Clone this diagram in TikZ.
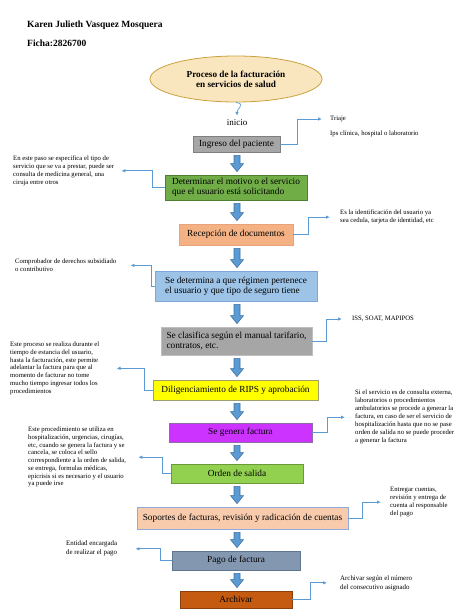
\documentclass[tikz,border=0pt]{standalone}
\usepackage{fontspec}
\setmainfont{Liberation Serif}
\usetikzlibrary{shapes.geometric,arrows.meta,calc,positioning}
\definecolor{crema}{HTML}{FAE6BE}
\definecolor{oro}{HTML}{C9A23F}
\definecolor{gris}{HTML}{A6A6A6}
\definecolor{grisb}{HTML}{7F7F7F}
\definecolor{verde}{HTML}{70AD47}
\definecolor{verdeb}{HTML}{507E32}
\definecolor{salmon}{HTML}{F4B183}
\definecolor{salmonb}{HTML}{E9A27A}
\definecolor{celeste}{HTML}{9DC3E6}
\definecolor{celesteb}{HTML}{7DA7D9}
\definecolor{grisc}{HTML}{BFBFBF}
\definecolor{amarillo}{HTML}{FFFF00}
\definecolor{amarillob}{HTML}{9E9E70}
\definecolor{morado}{HTML}{CC33FF}
\definecolor{moradob}{HTML}{8E6BA8}
\definecolor{verdec}{HTML}{92D050}
\definecolor{verdecb}{HTML}{6C9A3A}
\definecolor{durazno}{HTML}{F8CBAD}
\definecolor{duraznob}{HTML}{8FAADC}
\definecolor{pizarra}{HTML}{8497B0}
\definecolor{pizarrab}{HTML}{5F7590}
\definecolor{naranja}{HTML}{C55A11}
\definecolor{naranjab}{HTML}{8A3F0C}
\definecolor{azul}{HTML}{5B9BD5}
\definecolor{azulb}{HTML}{41719C}
\tikzset{
    titulo/.style = {anchor=west, inner sep=0pt, font=\fontsize{9.5}{11}\selectfont\bfseries},
    inicial/.style = {ellipse, draw=oro, fill=crema, line width=0.8pt, minimum width=172pt, minimum height=46pt, align=center, font=\fontsize{9.2}{10.2}\selectfont\bfseries},
    caja/.style = {rectangle, draw, line width=0.8pt, inner sep=2pt, align=left, font=\fontsize{9.3}{10.3}\selectfont},
    nota/.style = {inner sep=1pt, align=left, font=\fontsize{6.7}{7.7}\selectfont},
    notag/.style = {nota, font=\fontsize{6.9}{9}\selectfont},
    conector/.style = {draw=azul, line width=0.8pt, -{Latex[length=4pt,width=3.5pt]}, shorten >=9pt},
    bloque/.style = {draw=azulb, fill=azul, line width=0.6pt, to path={
        ($(\tikztostart.south -| eje)+(-3,3)$) -- ($(\tikztotarget.north -| eje)+(-3,-11)$) -- ++(-3.5,0)
        -- ($(\tikztotarget.north -| eje)+(0,-3)$) -- ($(\tikztotarget.north -| eje)+(6.5,-11)$) -- ++(-3.5,0)
        -- ($(\tikztostart.south -| eje)+(3,3)$) -- cycle}}
}
\begin{document}
\begin{tikzpicture}[x=1pt, y=-1pt]
    \useasboundingbox (0,0) rectangle (474,613);
    \coordinate (eje) at (237,0);

    % Encabezado
    \node[titulo] (autor) at (27,25) {Karen Julieth Vasquez Mosquera};
    \node[titulo] (ficha) at (27,43) {Ficha:2826700};

    % Inicio
    \node[inicial] (proceso) at (236,79) {Proceso de la facturación\\en servicios de salud};
    \node[inner sep=1pt, font=\fontsize{9}{10}\selectfont] (inicio) at (237,123) {inicio};

    % Pasos
    \node[caja, fill=gris, draw=grisb, minimum width=87pt, minimum height=16pt] (ingreso) at (236.5,144) {Ingreso del paciente};
    \node[caja, fill=verde, draw=verdeb, minimum width=142pt, minimum height=25pt] (motivo) at (236,187.5) {Determinar el motivo o el servicio\\que el usuario está solicitando};
    \node[caja, fill=salmon, draw=salmonb, minimum width=114pt, minimum height=21pt] (recepcion) at (236,234.5) {Recepción de documentos};
    \node[caja, fill=celeste, draw=celesteb, minimum width=162pt, minimum height=30pt] (regimen) at (236,286) {Se determina a que régimen pertenece\\el usuario y que tipo de seguro tiene};
    \node[caja, fill=gris, draw=grisc, minimum width=151pt, minimum height=28pt] (manual) at (236.5,341) {Se clasifica según el manual tarifario,\\contratos, etc.};
    \node[caja, fill=amarillo, draw=amarillob, minimum width=165pt, minimum height=20pt] (rips) at (235.5,390) {Diligenciamiento de RIPS y aprobación};
    \node[caja, fill=morado, draw=moradob, minimum width=143pt, minimum height=19pt] (factura) at (240.5,432.5) {Se genera factura};
    \node[caja, fill=verdec, draw=verdecb, minimum width=132pt, minimum height=19pt] (salida) at (237,473.5) {Orden de salida};
    \node[caja, fill=durazno, draw=duraznob, minimum width=211pt, minimum height=22pt] (soportes) at (242.5,518) {Soportes de facturas, revisión y radicación de cuentas};
    \node[caja, fill=pizarra, draw=pizarrab, minimum width=128pt, minimum height=19pt] (pago) at (236,560.5) {Pago de factura};
    \node[caja, fill=naranja, draw=naranjab, minimum width=112pt, minimum height=17pt] (archivar) at (236,599.5) {Archivar};

    % Notas
    \node[nota, anchor=west] (triaje) at (329,119) {Triaje};
    \node[nota, anchor=west] (ips) at (329,134) {Ips clínica, hospital o laboratorio};
    \node[nota, anchor=north west] (n-motivo) at (12,155) {En este paso se especifica el tipo de\\servicio que se va a prestar, puede ser\\consulta de medicina general, una\\ciruja entre otros};
    \node[nota, anchor=north west] (n-recepcion) at (339,209) {Es la identificación del usuario ya\\sea cedula, tarjeta de identidad, etc};
    \node[nota, anchor=north west] (n-regimen) at (14,258) {Comprobador de derechos subsidiado\\o contributivo};
    \node[nota, anchor=west] (n-manual) at (351,319) {ISS, SOAT, MAPIPOS};
    \node[nota, anchor=north west] (n-rips) at (9,341) {Este proceso se realiza durante el\\tiempo de estancia del usuario,\\hasta la facturación, este permite\\adelantar la factura para que al\\momento de facturar no tome\\mucho tiempo ingresar todos los\\procedimientos};
    \node[nota, anchor=north west, font=\fontsize{6.7}{8}\selectfont] (n-factura) at (354,389) {Si el servicio es de consulta externa,\\laboratorios o procedimientos\\ambulatorios se procede a generar la\\factura, en caso de ser el servicio de\\hospitalización hasta que no se pase\\orden de salida no se puede proceder\\a generar la factura};
    \node[nota, anchor=north west] (n-salida) at (27,426) {Este procedimiento se utiliza en\\hospitalización, urgencias, cirugías,\\etc, cuando se genera la factura y se\\cancela, se coloca el sello\\correspondiente a la orden de salida,\\se entrega, formulas médicas,\\epicrisis si es necesario y el usuario\\ya puede irse};
    \node[nota, anchor=north west, font=\fontsize{6.7}{8}\selectfont] (n-soportes) at (389,486) {Entregar cuentas,\\revisión y entrega de\\cuenta al responsable\\del pago};
    \node[notag, anchor=north west] (n-pago) at (65,540) {Entidad encargada\\de realizar el pago};
    \node[notag, anchor=north west] (n-archivar) at (339,574) {Archivar según el número\\del consecutivo asignado};

    % Flechas de bloque
    \path (ingreso) edge[bloque] (motivo);
    \path (motivo) edge[bloque] (recepcion);
    \path (recepcion) edge[bloque] (regimen);
    \path (regimen) edge[bloque] (manual);
    \path (manual) edge[bloque] (rips);
    \path (rips) edge[bloque] (factura);
    \path (factura) edge[bloque] (salida);
    \path (salida) edge[bloque] (soportes);
    \path (soportes) edge[bloque] (pago);
    \path (pago) edge[bloque] (archivar);

    % Conectores
    \draw[conector, shorten >=3pt, line width=0.7pt] (proceso.south) to[out=-10, in=90, looseness=1.6] (inicio.north);
    \draw[conector, shorten >=7pt] (ingreso.east) -- ++(17,0) |- (triaje.west);
    \draw[conector, shorten >=6pt] (motivo.west) -- ++(-12,0) |- (n-motivo.east);
    \draw[conector] (recepcion.east) -- ++(15,0) |- (n-recepcion.west);
    \draw[conector, shorten >=13pt] (regimen.west) -- ++(-3,0) |- (n-regimen.east);
    \draw[conector] (manual.east) -- ++(14,0) |- (n-manual.west);
    \draw[conector, shorten >=16pt] (rips.west) -- ++(-8,0) |- (n-rips.east);
    \draw[conector] (factura.east) -- ++(15,0) |- (n-factura.west);
    \draw[conector, shorten >=11pt] (salida.west) -- ++(-8,0) |- (n-salida.east);
    \draw[conector, shorten >=8pt] (soportes.east) -- ++(14,0) |- (n-soportes.west);
    \draw[conector, shorten >=17pt] (pago.west) -- ++(-11,0) |- (n-pago.east);
    \draw[conector, shorten >=12pt] (archivar.east) -- ++(18,0) |- (n-archivar.west);
\end{tikzpicture}
\end{document}
